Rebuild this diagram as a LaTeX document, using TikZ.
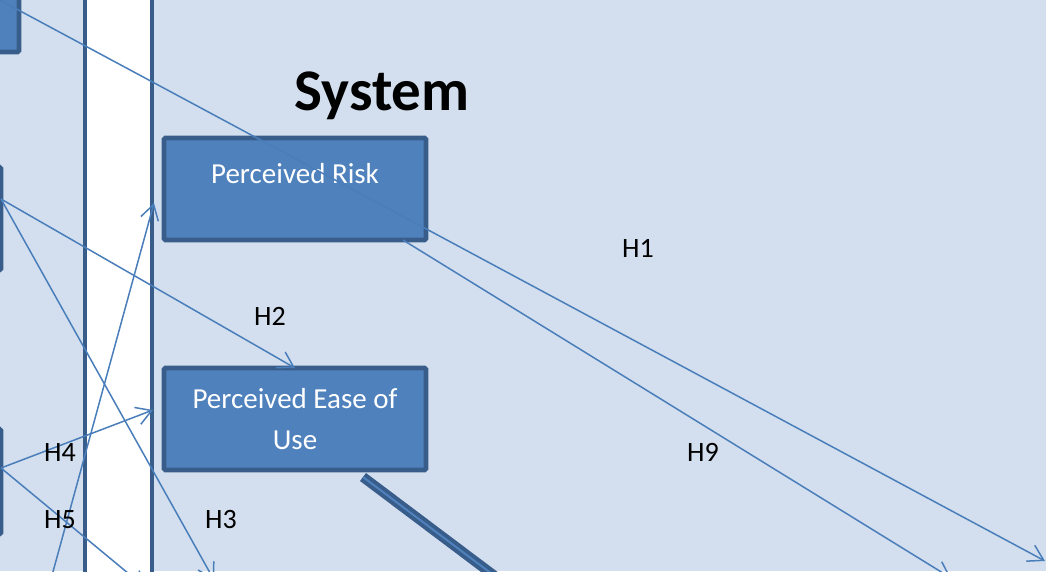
\documentclass[tikz,border=0pt]{standalone}
\usepackage{fontspec}
\setmainfont{Carlito}
\usetikzlibrary{arrows.meta}
\definecolor{bgblue}{HTML}{D3DFEE}
\definecolor{boxfill}{HTML}{4F81BD}
\definecolor{boxedge}{HTML}{385D8A}
\definecolor{linkblue}{HTML}{4A7EBB}
\tikzset{
  factor/.style={draw=boxedge, line width=4.8pt, fill=boxfill, rounded corners=1.5pt, text=white,
    font=\fontsize{29}{41}\selectfont, align=center, inner sep=0pt, outer sep=0pt,
    minimum width=262pt, minimum height=102pt},
  cutbox/.style={draw=boxedge, line width=4.6pt, fill=boxfill, rounded corners=1.5pt, inner sep=0pt, outer sep=0pt},
  link/.style={draw=linkblue, line width=1.5pt, -{Straight Barb[length=15pt,width=18pt]}},
  hyp/.style={font=\fontsize{28}{30}\selectfont, anchor=base},
}
\begin{document}
\begin{tikzpicture}[x=1pt,y=-1pt]
\useasboundingbox (0,0) rectangle (1046,571);
\fill[bgblue] (0,0) rectangle (1046,571);
% white strip
\fill[white] (85,-10) rectangle (152,590);
\draw[boxedge,line width=4.6pt] (85,-10) -- (85,590);
\draw[boxedge,line width=4.6pt] (152,-10) -- (152,590);

% boxes cut by the left edge
\node[cutbox, minimum width=119pt, minimum height=152pt] (topfactor) at (-40.5,-24) {};
\node[cutbox, minimum width=201pt, minimum height=103pt] (midfactor) at (-99.5,218.5) {};
\node[cutbox, minimum width=201pt, minimum height=105pt] (lowfactor) at (-99.5,481.5) {};

\node[factor] (risk) at (295,189) {Perceived Risk\\[-10pt]~};
\node[factor] (ease) at (295,419) {Perceived Ease of\\Use};

\node[font=\fontsize{59}{60}\selectfont\bfseries, anchor=base] (system) at (382,110) {System};

\draw[draw=boxedge, double=boxfill, double distance=2pt, line width=4pt]
  ([xshift=68pt,yshift=-7pt]ease.south) -- (500,580);

\coordinate (h1from) at (-4,-2);
\coordinate (h1to) at (1045,561);
\coordinate (h9to) at (951,578);
\coordinate (midout) at (1,199);
\coordinate (lowout) at (1,468);
\coordinate (h3to) at (214,580);
\coordinate (h4to) at (153,410);
\coordinate (h5to) at (146,588);
\coordinate (riskfrom) at (48,590);
\coordinate (riskto) at (154,203);

\draw[link] (h1from) -- (h1to);
\draw[link] ([xshift=108pt]risk.south) -- (h9to);
\draw[link] (midout) -- (ease.north);
\draw[link] (midout) -- (h3to);
\draw[link] (lowout) -- (h4to);
\draw[link] (lowout) -- (h5to);
\draw[link] (riskfrom) -- (riskto);

\node[hyp] (h1) at (638,257) {H1};
\node[hyp] (h2) at (270,325) {H2};
\node[hyp] (h9) at (703,461) {H9};
\node[hyp] (h4) at (60,461) {H4};
\node[hyp] (h5) at (60,528) {H5};
\node[hyp] (h3) at (221,528) {H3};
\end{tikzpicture}
\end{document}
